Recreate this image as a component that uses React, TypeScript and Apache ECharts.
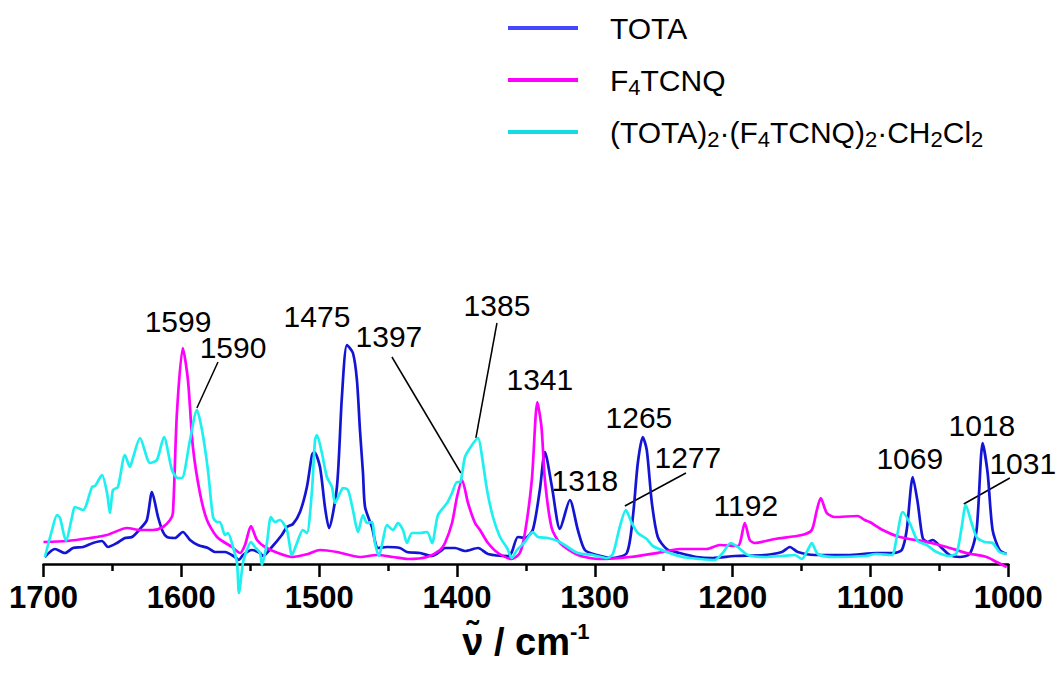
import React, { useEffect, useRef } from "react";
import * as echarts from "echarts";

// ---- data: [wavenumber (cm-1), intensity (arb. units)] ----
const totaData: [number, number][] = [
  [1699, 7], [1691.7, 15], [1684.4, 11], [1678.6, 16], [1671.3, 17], [1664.1, 21], [1657.6, 23], [1653.2, 17],
  [1646.7, 21], [1640.9, 26], [1635.8, 27], [1630.0, 35], [1625.0, 44], [1621.3, 72], [1616.9, 47], [1613.3, 32],
  [1610.4, 27], [1604.6, 26], [1598.9, 32], [1593.7, 24], [1588.0, 19], [1580.7, 16], [1575.6, 12], [1568.3, 12],
  [1561.1, 7], [1558.2, 4], [1555.3, 9], [1548.8, 14], [1542.9, 11], [1540.8, 8], [1534.3, 17], [1527.1, 29],
  [1523.4, 37], [1519.0, 40], [1513.9, 52], [1508.9, 77], [1505.2, 109], [1503.5, 112], [1499.4, 97], [1495.8, 57],
  [1492.9, 36], [1487.1, 77], [1483.5, 167], [1479.8, 219], [1475.5, 211], [1472.6, 184], [1470.4, 134], [1468.2, 91],
  [1466.7, 57], [1461.7, 37], [1457.3, 16], [1450.8, 17], [1441.4, 16], [1436.3, 12], [1426.8, 11], [1418.1, 8],
  [1410.9, 14], [1408.7, 16], [1401.4, 16], [1394.2, 13], [1384.7, 16], [1377.5, 10], [1363.0, 8], [1360.2, 12],
  [1355.8, 27], [1350.7, 26], [1345.0, 34], [1339.9, 74], [1336.2, 112], [1331.1, 77], [1325.3, 35], [1318.1, 64],
  [1312.3, 34], [1307.2, 14], [1298.5, 9], [1286.9, 6], [1276.8, 11], [1272.4, 47], [1268.8, 101], [1265.2, 127],
  [1262.3, 114], [1258.6, 61], [1254.3, 27], [1247.8, 15], [1238.4, 11], [1226.0, 7], [1214.4, 6], [1198.5, 8],
  [1176.7, 9], [1164.3, 12], [1158.5, 17], [1152.7, 12], [1140.4, 9], [1116.5, 9], [1095.5, 11], [1083.8, 11],
  [1077.3, 14], [1073.7, 34], [1069.3, 87], [1065.7, 61], [1062.1, 26], [1058.5, 22], [1054.9, 24], [1048.3, 16],
  [1042.5, 9], [1035.3, 7], [1028.0, 10], [1023.0, 34], [1018.6, 121], [1015.0, 91], [1011.4, 34], [1006.3, 14],
  [1001.2, 10],
];

const f4tcnqData: [number, number][] = [
  [1700, 22], [1683.0, 23], [1666.3, 26], [1653.9, 29], [1639.4, 36], [1630.0, 34], [1620.6, 34], [1613.3, 37],
  [1608.2, 44], [1606.1, 51], [1603.2, 151], [1598.9, 216], [1595.2, 184], [1591.6, 117], [1586.5, 71], [1581.4, 44],
  [1574.1, 27], [1563.3, 17], [1557.4, 11], [1553.8, 19], [1549.5, 38], [1545.1, 24], [1539.3, 17], [1529.9, 11],
  [1519.7, 7], [1508.1, 10], [1499.4, 14], [1487.1, 12], [1470.4, 7], [1458.0, 9], [1446.4, 7], [1435.5, 5],
  [1421.7, 7], [1412.3, 14], [1408.7, 21], [1403.6, 41], [1400.0, 67], [1396.3, 84], [1392.0, 61], [1386.9, 41],
  [1383.3, 34], [1377.5, 21], [1370.2, 11], [1360.2, 5], [1354.4, 11], [1350.7, 31], [1345.7, 84], [1341.7, 162],
  [1338.7, 137], [1336.2, 84], [1331.3, 36], [1325.3, 21], [1312.3, 9], [1296.4, 5], [1274.6, 7], [1250.7, 12],
  [1238.4, 15], [1218.8, 15], [1209.3, 19], [1196.3, 18], [1191.2, 41], [1187.6, 24], [1184.0, 21], [1169.4, 25],
  [1149.8, 29], [1142.6, 34], [1138.9, 54], [1136.1, 66], [1131.7, 51], [1125.9, 47], [1109.2, 48], [1104.2, 44],
  [1100.5, 42], [1091.1, 34], [1078.8, 27], [1059.2, 22], [1044.7, 17], [1030.2, 11], [1015.7, 7], [1008.5, 2],
  [1001.2, -3],
];

const complexData: [number, number][] = [
  [1699, 7], [1693.8, 34], [1690.2, 49], [1688.0, 46], [1683.7, 23], [1679.3, 47], [1677.2, 57], [1671.3, 54],
  [1664.8, 77], [1662.6, 78], [1657.6, 89], [1653.9, 71], [1651.8, 51], [1649.6, 74], [1646.0, 77], [1640.9, 109],
  [1637.3, 97], [1635.1, 106], [1630.0, 126], [1622.7, 101], [1617.7, 104], [1612.6, 127], [1606.8, 94], [1602.5, 86],
  [1599.6, 86], [1593.7, 124], [1588.7, 154], [1585.0, 134], [1580.7, 94], [1577.0, 47], [1574.1, 42], [1572.0, 42],
  [1568.3, 29], [1566.2, 31], [1562.5, 17], [1559.6, 1], [1558.2, -29], [1555.3, 1], [1552.4, 14], [1549.5, 22],
  [1546.6, 17], [1542.9, 11], [1541.5, -1], [1537.9, 21], [1535.0, 47], [1532.1, 42], [1528.5, 44], [1523.4, 34],
  [1519.7, 9], [1516.1, 21], [1511.8, 34], [1508.9, 31], [1505.2, 74], [1503.0, 124], [1501.6, 129], [1498.0, 111],
  [1494.4, 87], [1490.7, 77], [1488.5, 61], [1484.9, 71], [1482.7, 76], [1479.1, 74], [1475.5, 54], [1471.8, 32],
  [1468.2, 49], [1465.3, 41], [1461.7, 42], [1459.5, 21], [1456.6, 8], [1453.7, 24], [1450.8, 39], [1446.4, 34],
  [1442.8, 41], [1439.2, 34], [1436.3, 21], [1432.6, 31], [1426.8, 31], [1421.7, 32], [1418.1, 21], [1413.8, 49],
  [1407.2, 61], [1403.6, 71], [1400.0, 82], [1397.8, 82], [1394.2, 107], [1389.1, 119], [1384.7, 126], [1381.8, 107],
  [1378.2, 74], [1373.9, 47], [1368.8, 27], [1363.7, 16], [1360.2, 6], [1356.5, 14], [1350.7, 22], [1345.0, 32],
  [1341.3, 27], [1334.1, 26], [1326.8, 23], [1319.6, 17], [1312.3, 11], [1301.4, 9], [1291.3, 6], [1286.9, 10],
  [1281.9, 37], [1277.5, 54], [1273.2, 41], [1268.8, 31], [1262.3, 25], [1257.9, 18], [1247.8, 12], [1236.2, 7],
  [1223.9, 5], [1213.0, 4], [1207.2, 11], [1201.4, 21], [1196.3, 17], [1189.0, 9], [1176.7, 7], [1164.3, 8],
  [1154.9, 9], [1149.8, 5], [1145.5, 14], [1142.6, 21], [1138.2, 10], [1125.9, 7], [1104.2, 8], [1095.5, 10],
  [1084.6, 9], [1080.9, 27], [1076.6, 52], [1071.5, 41], [1065.7, 23], [1059.2, 19], [1052.0, 12], [1042.5, 8],
  [1037.5, 11], [1033.8, 37], [1030.9, 59], [1026.6, 41], [1023.0, 27], [1017.2, 22], [1011.4, 21], [1006.3, 12],
  [1001.2, 10],
];

const seriesNames = ["TOTA", "F4TCNQ", "(TOTA)2·(F4TCNQ)2·CH2Cl2"];
const legendRich = ["TOTA", "F{s|4}TCNQ", "(TOTA){s|2}·(F{s|4}TCNQ){s|2}·CH{s|2}Cl{s|2}"];
const lineColors = ["#1414d4", "#ff00ff", "#1ef0f0"];
const legendColors = ["#4646ff", "#ff00ff", "#12dde6"];

const xTicks = { min: 1000, max: 1700, interval: 100 };

// peak annotations (label text, position in data coordinates)
const peakLabels = ["1599", "1590", "1475", "1397", "1385", "1341", "1318", "1265", "1277", "1192", "1069", "1018", "1031"];
const labelWavenumbers = [1602.4, 1562.5, 1501.6, 1449.4, 1371.0, 1339.9, 1307.2, 1268.0, 1232.5, 1190.4, 1071.5, 1019.2, 989.5];
const labelHeights = [243, 217, 248, 228, 259, 185, 84, 147, 107, 59, 106, 139, 101];

// leader lines: [wavenumber, intensity] start/end
const leaderFrom: [number, number][] = [[1573.4, 202], [1447.2, 207], [1371.0, 241], [1233.9, 91], [998.9, 86]];
const leaderTo: [number, number][] = [[1588.7, 156], [1397.2, 91], [1386.3, 126], [1278.2, 58], [1032.3, 60]];

const FONT = "'Liberation Sans', Arial, Helvetica, sans-serif";

export default function App() {
  const ref = useRef<HTMLDivElement>(null);

  useEffect(() => {
    if (!ref.current) return;
    const chart = echarts.init(ref.current, undefined, { renderer: "svg" });
    const datasets = [totaData, f4tcnqData, complexData];

    chart.setOption({
      animation: false,
      backgroundColor: "#ffffff",
      grid: { left: 43.5, right: 48.7, top: 324, bottom: 109, containLabel: false, outerBoundsMode: "none" },
      legend: {
        orient: "vertical",
        left: 508,
        top: 10,
        padding: 0,
        itemGap: 16,
        itemWidth: 70,
        itemHeight: 4,
        icon: "rect",
        data: seriesNames.map((n, i) => ({ name: n, itemStyle: { color: legendColors[i] } })),
        formatter: (name: string) => legendRich[seriesNames.indexOf(name)],
        textStyle: {
          fontFamily: FONT,
          fontSize: 30,
          lineHeight: 36,
          color: "#000",
          padding: [0, 0, 0, 27],
          rich: {
            s: { fontFamily: FONT, fontSize: 22, lineHeight: 16, verticalAlign: "bottom", color: "#000" },
          },
        },
      },
      xAxis: {
        type: "value",
        inverse: true,
        min: xTicks.min,
        max: xTicks.max,
        interval: xTicks.interval,
        splitLine: { show: false },
        axisLine: { show: true, onZero: false, lineStyle: { color: "#000", width: 2.5 } },
        axisTick: { show: true, inside: false, length: 13, lineStyle: { color: "#000", width: 2.5 } },
        minorTick: { show: true, splitNumber: 2, length: 7, lineStyle: { color: "#000", width: 2.5 } },
        axisLabel: {
          fontFamily: FONT,
          fontWeight: "bold",
          fontSize: 31,
          color: "#000",
          margin: 18,
          formatter: (v: number) => String(v),
        },
        name: "{nu|ν̃ / cm}{sup|-1}",
        nameLocation: "middle",
        nameGap: 56,
        nameTextStyle: {
          rich: {
            nu: { fontFamily: FONT, fontWeight: "bold", fontSize: 38, color: "#000", lineHeight: 44 },
            sup: { fontFamily: FONT, fontWeight: "bold", fontSize: 22, color: "#000", verticalAlign: "top", lineHeight: 22 },
          },
        },
      },
      yAxis: {
        type: "value",
        min: 0,
        max: 240,
        show: false,
        splitLine: { show: false },
      },
      series: seriesNames.map((n, i) => ({
        name: n,
        type: "line",
        data: datasets[i],
        showSymbol: false,
        symbol: "none",
        smooth: 0.25,
        clip: false,
        lineStyle: { color: lineColors[i], width: 2.7 },
        itemStyle: { color: lineColors[i] },
      })),
    });

    const toPx = (p: [number, number]) => chart.convertToPixel({ xAxisIndex: 0, yAxisIndex: 0 }, p) as number[];
    const graphics: any[] = [];
    peakLabels.forEach((t, i) => {
      const [x, y] = toPx([labelWavenumbers[i], labelHeights[i]]);
      graphics.push({
        type: "text",
        x,
        y,
        style: { text: t, fontFamily: FONT, fontSize: 30, fill: "#000", align: "center", verticalAlign: "middle" },
      });
    });
    leaderFrom.forEach((a, i) => {
      const [x1, y1] = toPx(a);
      const [x2, y2] = toPx(leaderTo[i]);
      graphics.push({ type: "line", shape: { x1, y1, x2, y2 }, style: { stroke: "#000", lineWidth: 1.5 } });
    });
    chart.setOption({ graphic: graphics });

    return () => chart.dispose();
  }, []);

  return <div ref={ref} style={{ position: "absolute", left: 0, top: 0, width: 1057, height: 673 }} />;
}
